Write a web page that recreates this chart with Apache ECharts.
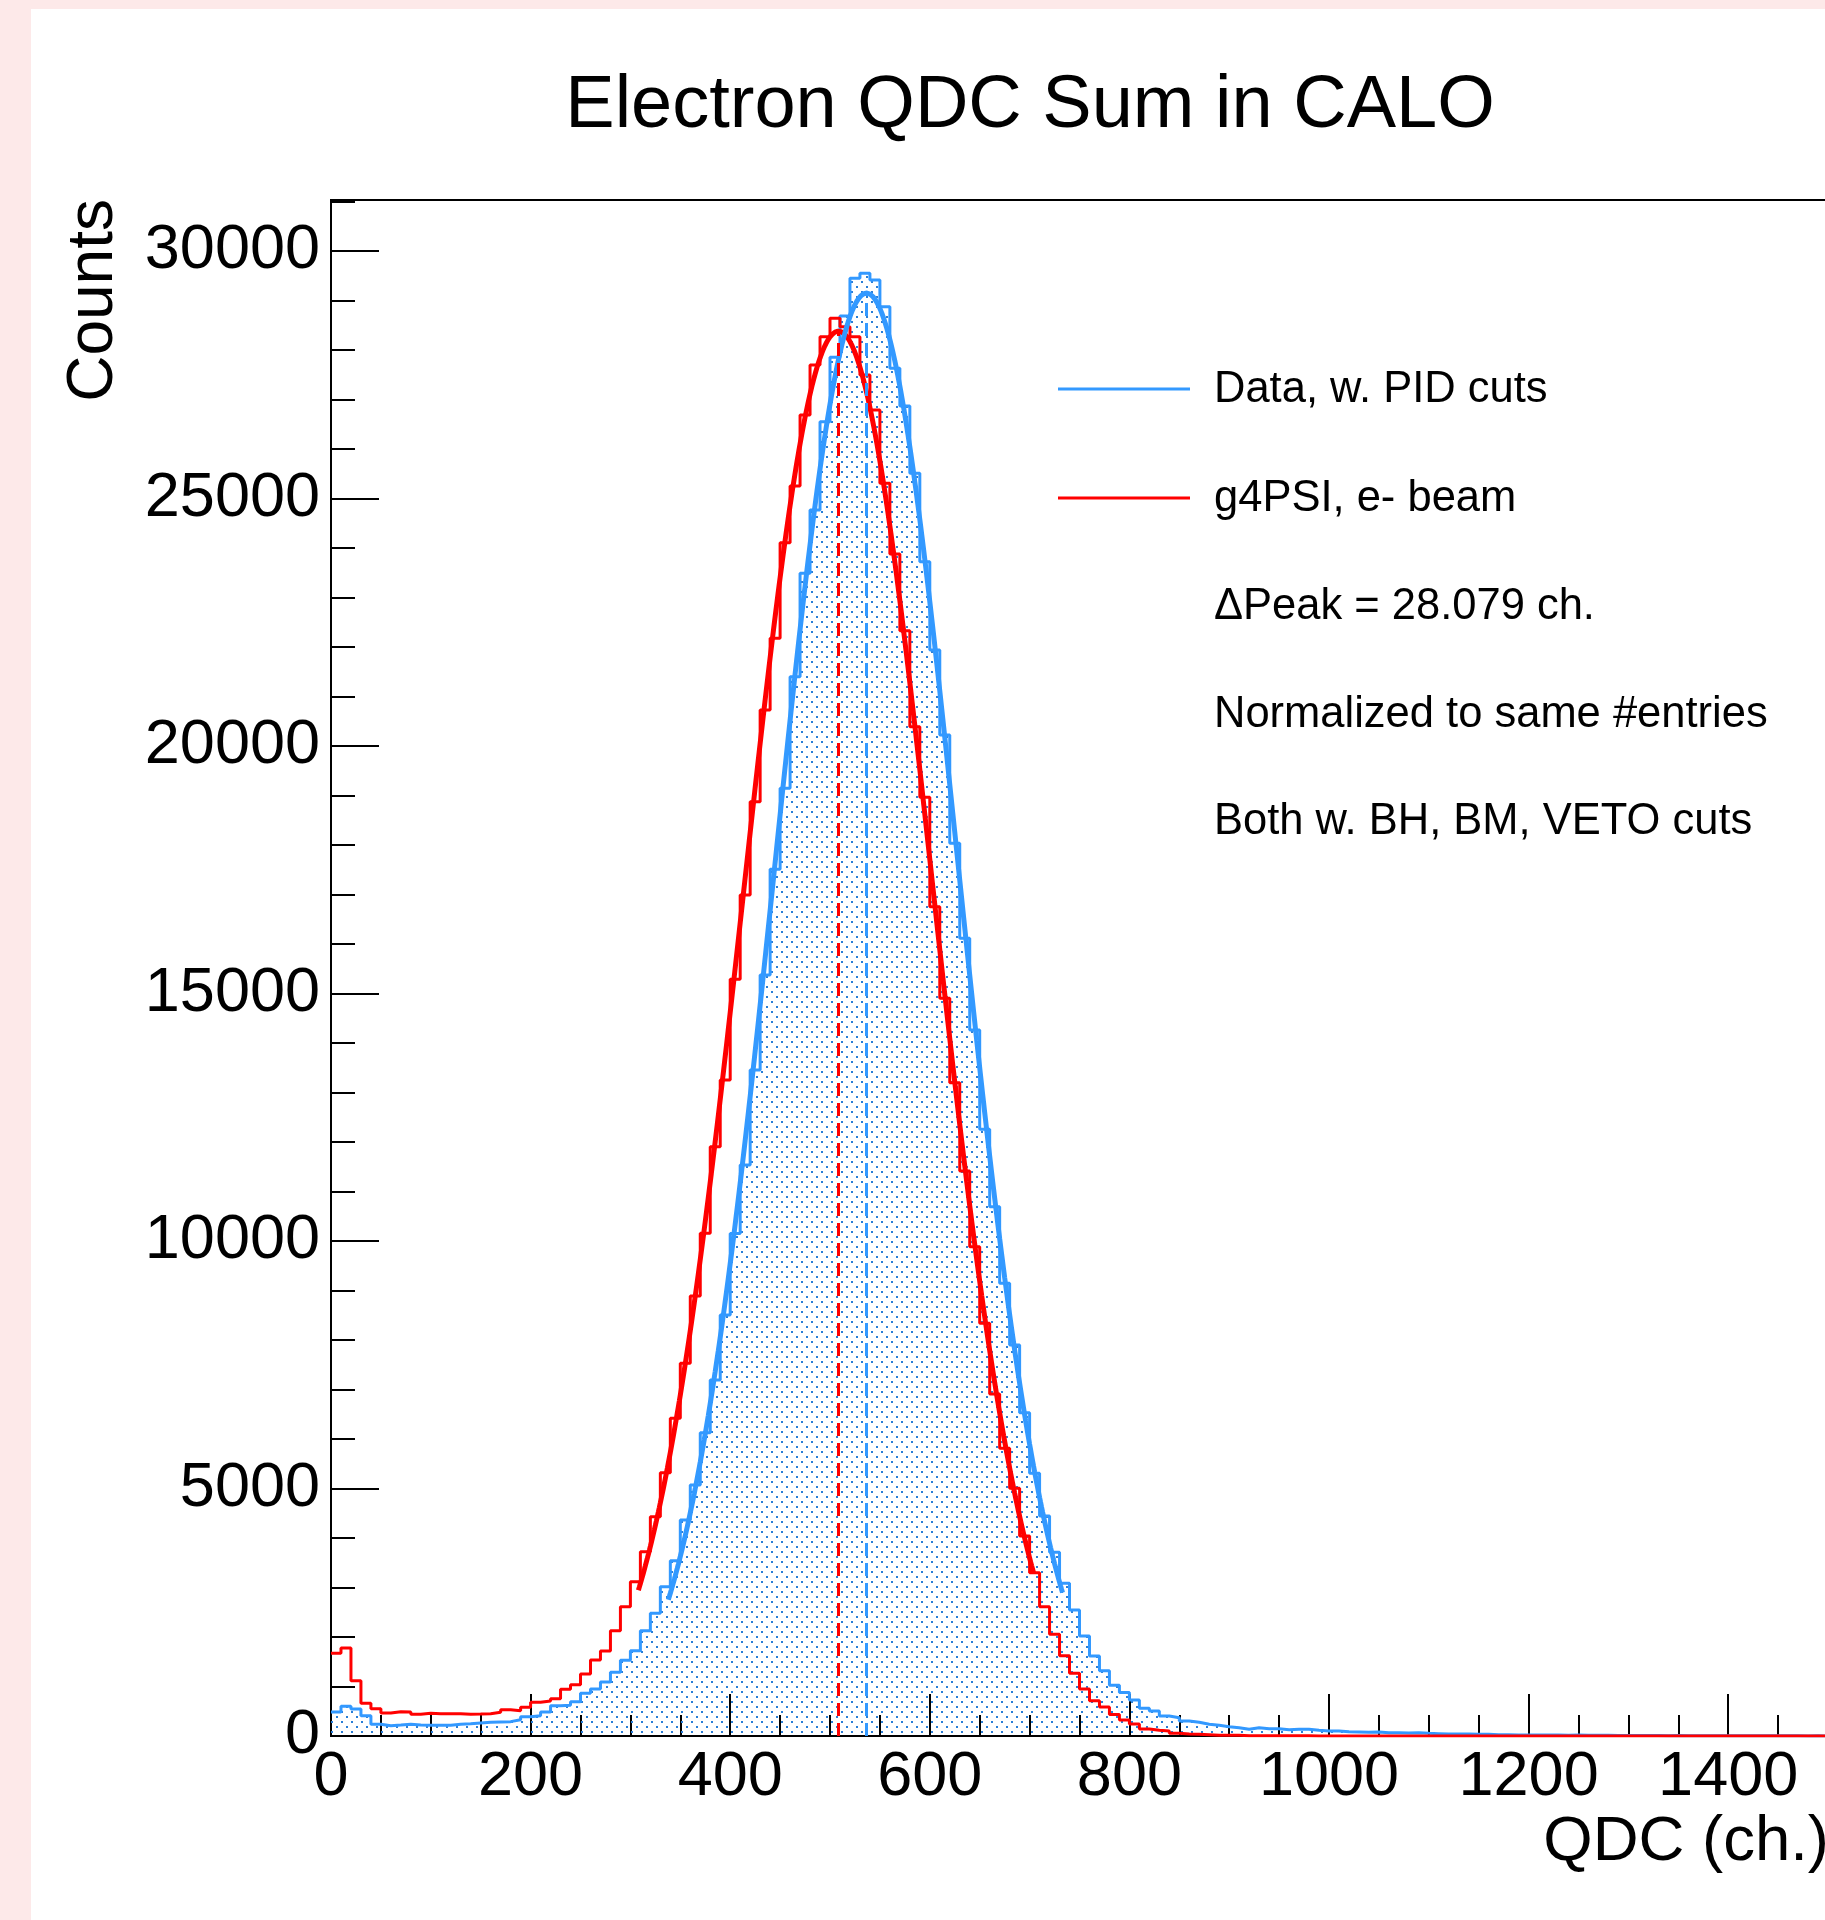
<!DOCTYPE html>
<html>
<head>
<meta charset="utf-8">
<title>Electron QDC Sum in CALO</title>
<script src="https://cdn.jsdelivr.net/npm/echarts@6/dist/echarts.min.js"></script>
<style>
  html, body { margin: 0; padding: 0; }
  body { width: 1825px; height: 1920px; background: #fde9e9; position: relative; overflow: hidden; }
  #pad { position: absolute; left: 31px; top: 9px; right: 0; bottom: 0; background: #ffffff; }
  #chart { position: absolute; left: 0; top: 0; width: 1825px; height: 1920px; }
</style>
</head>
<body>
<div id="pad"></div>
<div id="chart"></div>
<script>
// Histogram binning (QDC channels)
const BIN_WIDTH = 10;
const X_MIN = 0;
const X_MAX = 1500;
const Y_MAX = 31030;

// Data, w. PID cuts: counts per 10-channel bin, 0 .. 1500
const dataCounts = [
  485, 599, 545, 411, 236, 209, 222, 236, 222, 215,
  215, 215, 236, 249, 263, 276, 283, 290, 330, 391,
  411, 485, 613, 620, 694, 862, 949, 1091, 1286, 1532,
  1724, 2128, 2478, 3017, 3542, 4364, 5071, 6128, 7192, 8505,
  10150, 11535, 13455, 15374, 17509, 19145, 21400, 23488, 24768, 26552,
  27852, 28687, 29448, 29549, 29414, 28875, 27630, 26869, 25509, 23724,
  21939, 20222, 18034, 16115, 14263, 12256, 10693, 9145, 7899, 6532,
  5307, 4444, 3711, 3084, 2545, 2020, 1616, 1316, 1023, 878,
  727, 559, 505, 404, 370, 303, 276, 236, 216, 189,
  168, 135, 168, 148, 148, 128, 135, 135, 114, 101,
  101, 87, 81, 74, 81, 67, 67, 61, 67, 54,
  47, 40, 40, 40, 34, 34, 27, 27, 20, 20,
  22, 18, 20, 15, 18, 15, 13, 15, 12, 12,
  10, 8, 10, 7, 8, 6, 7, 5, 6, 5,
  5, 4, 4, 3, 4, 3, 3, 2, 3, 2
];

// g4PSI simulation, e- beam (normalized to the same number of entries)
const simCounts = [
  1671, 1778, 1118, 660, 552, 465, 492, 485, 438, 458,
  451, 451, 451, 438, 444, 451, 478, 532, 512, 579,
  680, 707, 754, 943, 1037, 1253, 1535, 1717, 2124, 2613,
  3118, 3724, 4431, 5320, 6418, 7529, 8889, 10155, 11906, 13253,
  15286, 16990, 18875, 20727, 22175, 24107, 25253, 26687, 27697, 28269,
  28640, 28471, 28269, 27495, 26788, 25306, 23879, 22330, 20391, 18964,
  16754, 14902, 13199, 11414, 9885, 8337, 6909, 5811, 5003, 4040,
  3300, 2613, 2054, 1623, 1266, 949, 714, 586, 434, 323,
  242, 141, 114, 101, 54, 40, 34, 27, 13, 13,
  13, 7, 7, 5, 5, 4, 3, 3, 2, 2,
  2, 1, 1, 1, 1, 0, 0, 0, 0, 0,
  1, 0, 1, 0, 0, 0, 0, 0, 0, 0,
  0, 0, 0, 0, 0, 0, 0, 0, 0, 0,
  0, 0, 0, 0, 0, 0, 0, 0, 0, 0,
  0, 0, 0, 0, 0, 0, 0, 0, 0, 0
];

// Gaussian fit results: [amplitude, mean, sigma, range start, range end]
const dataFit = [29150, 536.600, 91.4, 338, 733];
const simFit = [28380, 508.521, 94.2, 308, 704];

// Axis tick settings
const xMajorStep = 200;
const xMinorStep = 50;
const yMajorStep = 5000;
const yMinorStep = 1000;

// Legend and caption texts
const seriesNames = ['Data, w. PID cuts', 'g4PSI, e- beam'];
const noteLines = ['Normalized to same #entries', 'Both w. BH, BM, VETO cuts'];

const BLUE = '#3399ff';
const RED = '#ff0000';
const FONT = '"Liberation Sans", Arial, Helvetica, sans-serif';

// Left bin edges with bin contents, closed by the upper edge of the last bin
function histPoints(counts) {
  const pts = counts.map((c, i) => [X_MIN + i * BIN_WIDTH, c]);
  pts.push([X_MIN + counts.length * BIN_WIDTH, counts[counts.length - 1]]);
  return pts;
}

// Fit function sampled over its fit range
function fitCurve(p) {
  const [amp, mean, sigma, lo, hi] = p;
  const pts = [];
  for (let x = lo; x < hi; x += 1) {
    pts.push([x, amp * Math.exp(-0.5 * Math.pow((x - mean) / sigma, 2))]);
  }
  pts.push([hi, amp * Math.exp(-0.5 * Math.pow((hi - mean) / sigma, 2))]);
  return pts;
}

// Dotted fill used under the data histogram
function dotPattern() {
  const c = document.createElement('canvas');
  c.width = 10; c.height = 10;
  const g = c.getContext('2d');
  g.fillStyle = '#2a7ed6';
  g.fillRect(1, 1, 2, 2);
  g.fillRect(6, 6, 2, 2);
  return c;
}

const deltaPeak = (dataFit[1] - simFit[1]).toFixed(3);
const legendRows = [
  seriesNames[0],
  seriesNames[1],
  '\u0394Peak = ' + deltaPeak + ' ch.',
  noteLines[0],
  noteLines[1]
];
const legendRowY = [390, 499, 607, 715, 822];

const chart = echarts.init(document.getElementById('chart'), null, { renderer: 'canvas', width: 1825, height: 1920 });

const axisLineStyle = { color: '#000', width: 2 };
const plainNumber = (v) => String(v);

const graphics = [
  {
    type: 'text', x: 1030, y: 107, silent: true,
    style: { text: 'Electron QDC Sum in CALO', fontSize: 74, fontFamily: FONT, fill: '#000', align: 'center', verticalAlign: 'middle' }
  },
  {
    type: 'text', x: 94, y: 199, rotation: Math.PI / 2, silent: true,
    style: { text: 'Counts', fontSize: 64, fontFamily: FONT, fill: '#000', align: 'right', verticalAlign: 'middle' }
  },
  {
    type: 'text', x: 1829, y: 1842, silent: true,
    style: { text: 'QDC (ch.)', fontSize: 63.5, fontFamily: FONT, fill: '#000', align: 'right', verticalAlign: 'middle' }
  }
];
[BLUE, RED].forEach((col, i) => {
  graphics.push({
    type: 'line', silent: true,
    shape: { x1: 1058, y1: legendRowY[i] - 1, x2: 1190, y2: legendRowY[i] - 1 },
    style: { stroke: col, lineWidth: 3 }
  });
});
legendRows.forEach((t, i) => {
  graphics.push({
    type: 'text', x: 1214, y: legendRowY[i], silent: true,
    style: { text: t, fontSize: 43.5, fontFamily: FONT, fill: '#000', align: 'left', verticalAlign: 'middle' }
  });
});

const option = {
  animation: false,
  backgroundColor: 'transparent',
  grid: {
    left: 331, right: -3, top: 200, bottom: 184,
    show: true, borderColor: '#000', borderWidth: 2, backgroundColor: 'transparent',
    containLabel: false, outerBoundsMode: 'none'
  },
  xAxis: [
    {
      type: 'value', min: X_MIN, max: X_MAX, interval: xMajorStep, position: 'bottom',
      axisLine: { show: true, onZero: false, lineStyle: axisLineStyle },
      axisTick: { show: true, inside: true, length: 42, lineStyle: axisLineStyle },
      axisLabel: {
        show: true, margin: 10, showMaxLabel: false, showMinLabel: true, formatter: plainNumber,
        fontSize: 63, fontFamily: FONT, color: '#000'
      },
      splitLine: { show: false }
    },
    {
      type: 'value', min: X_MIN, max: X_MAX, interval: xMinorStep, position: 'bottom',
      axisLine: { show: false, onZero: false },
      axisTick: { show: true, inside: true, length: 21, lineStyle: axisLineStyle },
      axisLabel: { show: false },
      splitLine: { show: false }
    }
  ],
  yAxis: [
    {
      type: 'value', min: 0, max: Y_MAX, interval: yMajorStep, position: 'left',
      axisLine: { show: true, onZero: false, lineStyle: axisLineStyle },
      axisTick: { show: true, inside: true, length: 48, lineStyle: axisLineStyle },
      axisLabel: {
        show: true, margin: 11, showMaxLabel: false, showMinLabel: true, formatter: plainNumber,
        fontSize: 63, fontFamily: FONT, color: '#000', padding: [10, 0, 0, 0]
      },
      splitLine: { show: false }
    },
    {
      type: 'value', min: 0, max: Y_MAX, interval: yMinorStep, position: 'left',
      axisLine: { show: false, onZero: false },
      axisTick: { show: true, inside: true, length: 24, lineStyle: axisLineStyle },
      axisLabel: { show: false },
      splitLine: { show: false }
    }
  ],
  series: [
    {
      name: seriesNames[0], type: 'line', step: 'end', data: histPoints(dataCounts),
      symbol: 'none', silent: true,
      lineStyle: { color: BLUE, width: 3 },
      areaStyle: { color: { image: dotPattern(), repeat: 'repeat' }, opacity: 1 },
      z: 2
    },
    {
      name: seriesNames[1], type: 'line', step: 'end', data: histPoints(simCounts),
      symbol: 'none', silent: true,
      lineStyle: { color: RED, width: 3 },
      z: 3
    },
    {
      name: 'sim fit', type: 'line', data: fitCurve(simFit), symbol: 'none', silent: true,
      lineStyle: { color: RED, width: 5 }, z: 4
    },
    {
      name: 'data fit', type: 'line', data: fitCurve(dataFit), symbol: 'none', silent: true,
      lineStyle: { color: BLUE, width: 5 }, z: 4
    },
    {
      name: 'sim peak', type: 'line', data: [[simFit[1], 0], [simFit[1], simFit[0]]], symbol: 'none', silent: true,
      lineStyle: { color: RED, width: 3, type: [13, 7] }, z: 5
    },
    {
      name: 'data peak', type: 'line', data: [[dataFit[1], 0], [dataFit[1], dataFit[0]]], symbol: 'none', silent: true,
      lineStyle: { color: BLUE, width: 3, type: [13, 7] }, z: 5
    }
  ],
  graphic: graphics
};

chart.setOption(option);
</script>
</body>
</html>
